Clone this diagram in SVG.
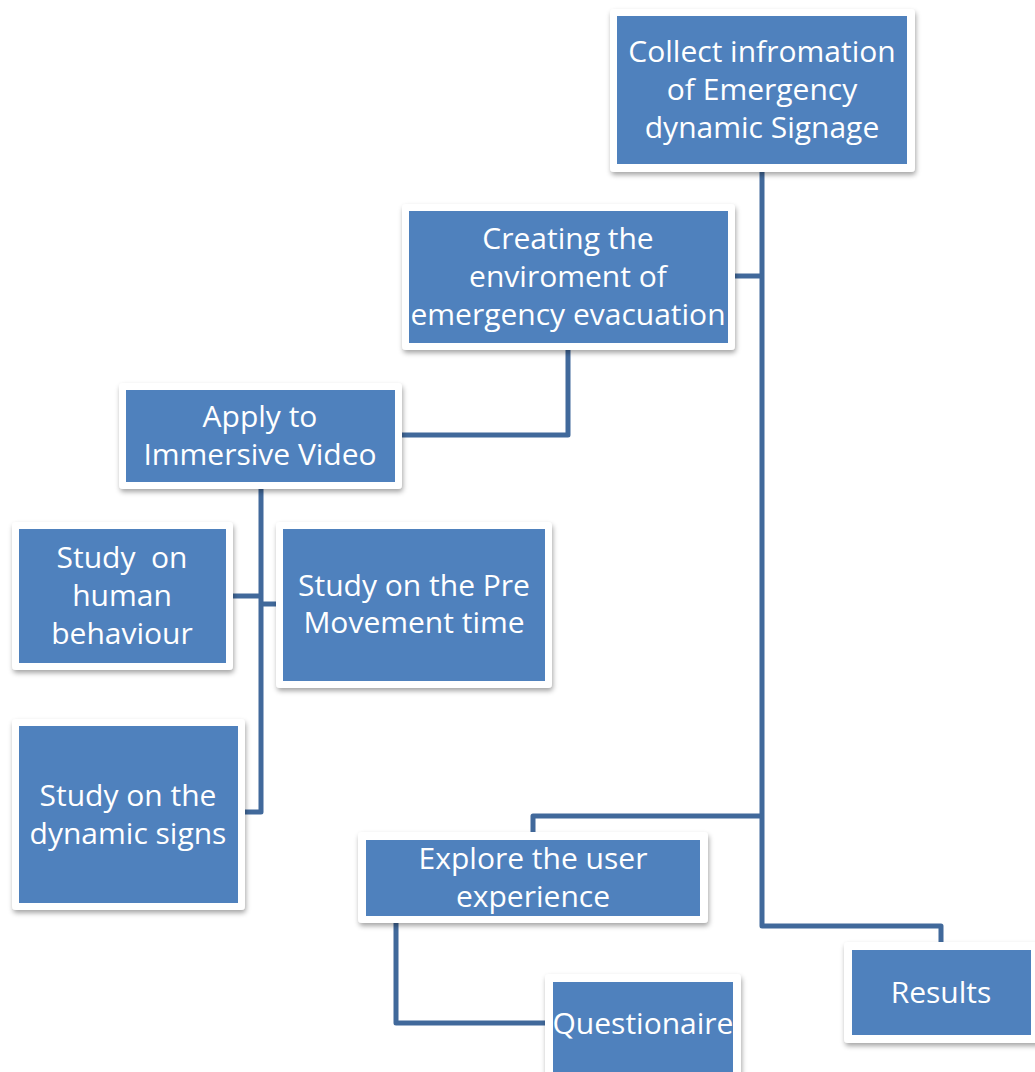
<svg xmlns="http://www.w3.org/2000/svg" width="1035" height="1072" viewBox="0 0 1035 1072">
  <defs>
    <filter id="shadow" x="-10%" y="-10%" width="130%" height="140%">
      <feDropShadow dx="1" dy="3" stdDeviation="2.5" flood-color="#000" flood-opacity="0.35"/>
    </filter>
  </defs>
  <style>
    .frame { fill: #ffffff; filter: url(#shadow); }
    .box { fill: #4F81BD; }
    .label { fill: #ffffff; font-family: "Open Sans", "Noto Sans", "Liberation Sans", sans-serif; font-size: 30px; text-anchor: middle; }
    .link { fill: none; stroke: #41699B; stroke-width: 5; stroke-linejoin: round; stroke-linecap: butt; }
  </style>
  <rect width="1035" height="1072" fill="#ffffff"/>

  <g id="connectors">
    <path class="link" d="M762,170 V926 H941 V945"/>
    <path class="link" d="M733,276 H762"/>
    <path class="link" d="M762,816 H533 V834"/>
    <path class="link" d="M568,348 V435 H400"/>
    <path class="link" d="M261,487 V812 H243"/>
    <path class="link" d="M231,596 H261"/>
    <path class="link" d="M261,604 H278"/>
    <path class="link" d="M396,921 V1023 H547"/>
  </g>

  <g id="collect">
    <rect class="frame" x="610" y="9" width="305" height="163" rx="4"/>
    <rect class="box" x="617" y="16" width="290" height="148"/>
    <text class="label" x="762" y="62">Collect infromation</text>
    <text class="label" x="762" y="100">of Emergency</text>
    <text class="label" x="762" y="138">dynamic Signage</text>
  </g>

  <g id="creating">
    <rect class="frame" x="402" y="204" width="333" height="146" rx="4"/>
    <rect class="box" x="409" y="211" width="319" height="132"/>
    <text class="label" x="568" y="249">Creating the</text>
    <text class="label" x="568" y="287">enviroment of</text>
    <text class="label" x="568" y="325">emergency evacuation</text>
  </g>

  <g id="apply">
    <rect class="frame" x="119" y="383" width="283" height="106" rx="4"/>
    <rect class="box" x="126" y="390" width="269" height="92"/>
    <text class="label" x="260" y="427">Apply to</text>
    <text class="label" x="260" y="465">Immersive Video</text>
  </g>

  <g id="human">
    <rect class="frame" x="12" y="522" width="221" height="148" rx="4"/>
    <rect class="box" x="19" y="529" width="207" height="134"/>
    <text class="label" x="122" y="568" xml:space="preserve">Study  on</text>
    <text class="label" x="122" y="606">human</text>
    <text class="label" x="122" y="644">behaviour</text>
  </g>

  <g id="premovement">
    <rect class="frame" x="276" y="522" width="276" height="166" rx="4"/>
    <rect class="box" x="283" y="529" width="262" height="152"/>
    <text class="label" x="414" y="596">Study on the Pre</text>
    <text class="label" x="414" y="633">Movement time</text>
  </g>

  <g id="signs">
    <rect class="frame" x="12" y="719" width="233" height="191" rx="4"/>
    <rect class="box" x="19" y="726" width="219" height="177"/>
    <text class="label" x="128" y="806">Study on the</text>
    <text class="label" x="128" y="844">dynamic signs</text>
  </g>

  <g id="explore">
    <rect class="frame" x="358" y="832" width="350" height="91" rx="4"/>
    <rect class="box" x="366" y="840" width="334" height="76"/>
    <text class="label" x="533" y="869">Explore the user</text>
    <text class="label" x="533" y="907">experience</text>
  </g>

  <g id="questionaire">
    <rect class="frame" x="545" y="974" width="196" height="104" rx="4"/>
    <rect class="box" x="553" y="982" width="180" height="90"/>
    <text class="label" x="643" y="1034">Questionaire</text>
  </g>

  <g id="results">
    <rect class="frame" x="844" y="942" width="196" height="101" rx="4"/>
    <rect class="box" x="852" y="950" width="179" height="85"/>
    <text class="label" x="941" y="1003">Results</text>
  </g>
</svg>
